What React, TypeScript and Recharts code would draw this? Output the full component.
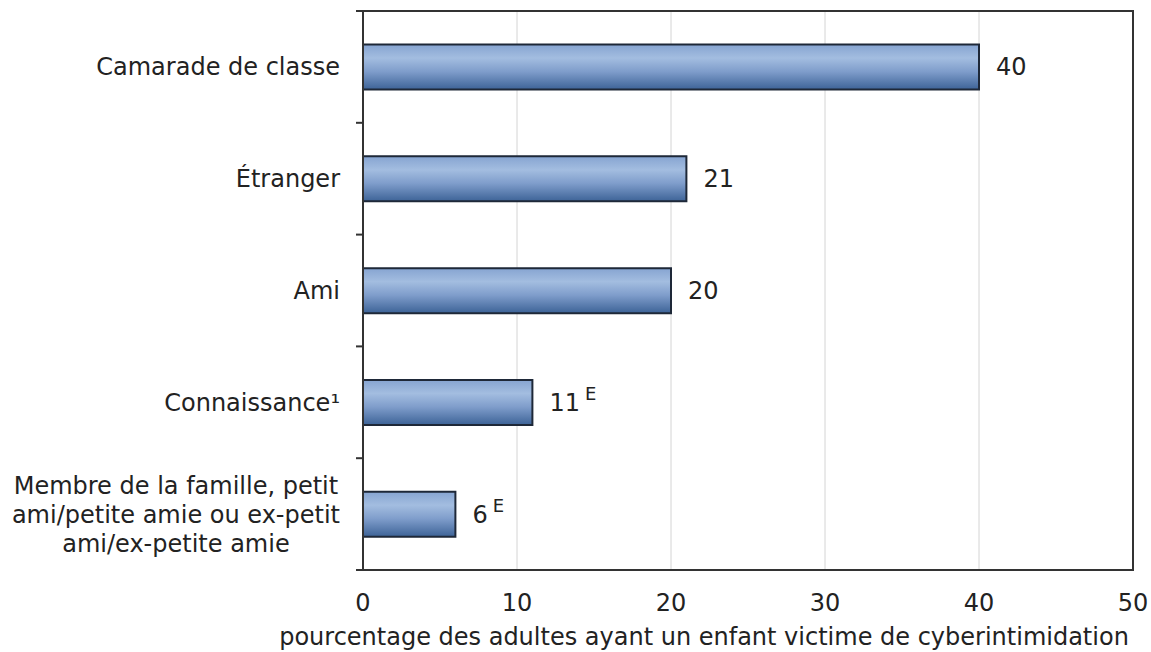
import React from "react";
import {
  BarChart,
  Bar,
  XAxis,
  YAxis,
  CartesianGrid,
  LabelList,
  ReferenceArea,
} from "recharts";

// who the cyberbullying came from, % of adults with a victimised child
const categories = [
  ["Camarade de classe"],
  ["Étranger"],
  ["Ami"],
  ["Connaissance¹"],
  ["Membre de la famille, petit", "ami/petite amie ou ex-petit", "ami/ex-petite amie"],
];
const values = [40, 21, 20, 11, 6];
// "E" = use with caution
const flags = ["", "", "", "E", "E"];
const xTicks = [0, 10, 20, 30, 40, 50];
const xTitle = "pourcentage des adultes ayant un enfant victime de cyberintimidation";

const data = categories.map((lines, i) => ({
  name: lines.join("\n"),
  value: values[i],
  flag: flags[i],
}));

const W = 1151;
const H = 652;
const FONT = "DejaVu Sans, Verdana, sans-serif";
const FS = 24;
const TEXT = "#222";
const PLOT_TOP = 11;
const PLOT_H = 559;
const BAND = PLOT_H / categories.length;

let ctx: CanvasRenderingContext2D | null = null;
function measure(s: string, size = FS) {
  if (!ctx) ctx = document.createElement("canvas").getContext("2d");
  if (!ctx) return s.length * size * 0.6;
  ctx.font = `${size}px ${FONT}`;
  return ctx.measureText(s).width;
}

function CategoryTick(props: any) {
  const { x, y, payload, index } = props;
  const lines: string[] = String(payload.value).split("\n");
  const right = x - 23;
  const lh = 29;
  const multi = lines.length > 1;
  const maxW = Math.max(...lines.map((l) => measure(l)));
  const tx = multi ? right - maxW / 2 : right;
  const y0 = y - ((lines.length - 1) * lh) / 2;
  return (
    <g>
      <line x1={x - 7} x2={x} y1={y - BAND / 2} y2={y - BAND / 2} stroke="#333" strokeWidth={2} />
      {index === categories.length - 1 && (
        <line x1={x - 7} x2={x} y1={y + BAND / 2} y2={y + BAND / 2} stroke="#333" strokeWidth={2} />
      )}
      <text
        x={tx}
        y={y0}
        textAnchor={multi ? "middle" : "end"}
        fontFamily={FONT}
        fontSize={FS}
        fill={TEXT}
      >
        {lines.map((l, i) => (
          <tspan key={i} x={tx} y={y0 + i * lh} dy="0.35em">
            {l}
          </tspan>
        ))}
      </text>
    </g>
  );
}

function ValueLabel(props: any) {
  const { x, y, width, height, value, index } = props;
  const flag = flags[index];
  const tx = x + width + 17;
  const ty = y + height / 2;
  const numW = measure(String(value));
  return (
    <g fontFamily={FONT} fill={TEXT}>
      <text x={tx} y={ty} dy="0.35em" fontSize={FS}>
        {value}
      </text>
      {flag && (
        <text x={tx + numW + 5} y={ty - 9} dy="0.35em" fontSize={18}>
          {flag}
        </text>
      )}
    </g>
  );
}

export default function App() {
  return (
    <div style={{ position: "absolute", left: 0, top: 0, width: W, height: H, background: "#fff" }}>
      <BarChart
        width={W}
        height={H}
        data={data}
        layout="vertical"
        margin={{ top: PLOT_TOP, right: 18, bottom: 0, left: 8 }}
        barCategoryGap="30%"
      >
        <defs>
          <linearGradient id="barFill" x1="0" y1="0" x2="0" y2="1">
            <stop offset="0%" stopColor="#86a4d1" />
            <stop offset="30%" stopColor="#a3bde0" />
            <stop offset="60%" stopColor="#7f9dcb" />
            <stop offset="100%" stopColor="#3d6397" />
          </linearGradient>
        </defs>
        <CartesianGrid horizontal={false} stroke="#d4d4d4" strokeWidth={1} />
        <XAxis
          type="number"
          domain={[0, 50]}
          ticks={xTicks}
          height={82}
          tickLine={false}
          axisLine={{ stroke: "#333", strokeWidth: 2 }}
          tick={{ fontFamily: FONT, fontSize: FS, fill: TEXT }}
          tickMargin={18}
          label={{
            value: xTitle,
            position: "insideBottom",
            offset: 7,
            dx: -44,
            style: { fontFamily: FONT, fontSize: FS, fill: TEXT },
          }}
        />
        <YAxis
          type="category"
          dataKey="name"
          width={355}
          tickLine={false}
          tickSize={0}
          tickMargin={0}
          axisLine={{ stroke: "#333", strokeWidth: 2 }}
          tick={<CategoryTick />}
          interval={0}
        />
        <ReferenceArea x1={0} x2={50} fill="none" stroke="#333" strokeWidth={2} ifOverflow="visible" />
        <Bar
          dataKey="value"
          fill="url(#barFill)"
          stroke="#1e2838"
          strokeWidth={2}
          isAnimationActive={false}
        >
          <LabelList dataKey="value" content={<ValueLabel />} />
        </Bar>
      </BarChart>
    </div>
  );
}
